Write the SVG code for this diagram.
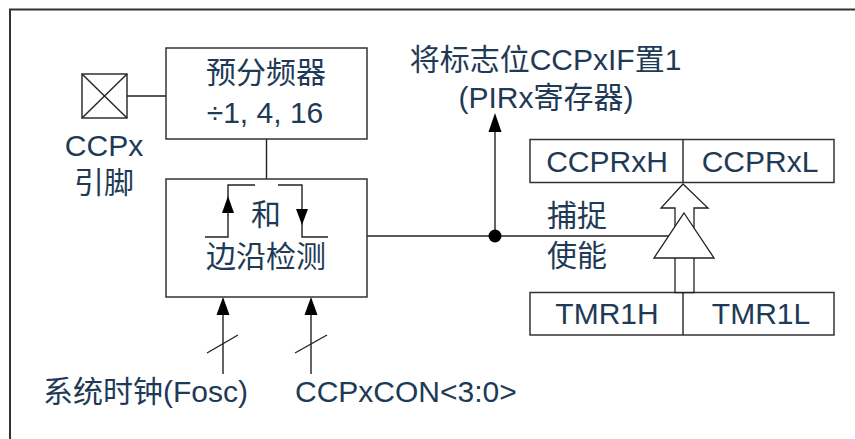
<svg xmlns="http://www.w3.org/2000/svg" width="855" height="439" viewBox="0 0 855 439">
<defs>
<style>
.t{font-family:"Liberation Sans","Noto Sans CJK SC",sans-serif;font-size:30px;fill:#1e3a56}
.m{text-anchor:middle}
.box{fill:#fff;stroke:#333;stroke-width:1.5}
.ln{fill:none;stroke:#222;stroke-width:1.4}
.ah{fill:#000;stroke:none}
</style>
</defs>
<rect width="855" height="439" fill="#fff"/>
<path d="M10,439 V9.5 H855" fill="none" stroke="#333" stroke-width="2"/>

<g id="connectors">
  <line class="ln" x1="127" y1="96" x2="166" y2="96"/>
  <line class="ln" x1="266.5" y1="139" x2="266.5" y2="179"/>
  <line class="ln" x1="367" y1="236" x2="669" y2="236"/>
  <line class="ln" x1="495" y1="236" x2="495" y2="130"/>
  <polygon class="ah" points="495,113 488.5,132 501.5,132"/>
  <circle cx="495" cy="236" r="6.5" fill="#000"/>
  <line class="ln" x1="223" y1="374" x2="223" y2="313"/>
  <polygon class="ah" points="223,297 216.5,315 229.5,315"/>
  <line class="ln" x1="207" y1="353" x2="238" y2="335"/>
  <line class="ln" x1="311" y1="374" x2="311" y2="313"/>
  <polygon class="ah" points="311,297 304.5,315 317.5,315"/>
  <line class="ln" x1="295" y1="353" x2="327" y2="335"/>
</g>

<g id="pin">
  <rect x="82" y="74" width="45" height="44" fill="#fff" stroke="#222" stroke-width="1.4"/>
  <line class="ln" x1="82" y1="74" x2="127" y2="118" stroke-width="1"/>
  <line class="ln" x1="127" y1="74" x2="82" y2="118" stroke-width="1"/>
  <text class="t m" x="104" y="156">CCPx</text>
  <text class="t m" x="104" y="193">引脚</text>
</g>

<g id="prescaler">
  <rect class="box" x="166" y="48" width="201" height="91"/>
  <text class="t m" x="266" y="83">预分频器</text>
  <text class="t m" x="265" y="122.5">÷1, 4, 16</text>
</g>

<g id="edge-detect">
  <rect class="box" x="166" y="179" width="201" height="118"/>
  <polyline class="ln" points="205,237 228,237 228,185 255,185"/>
  <polygon class="ah" points="228,196 222,213 234,213"/>
  <polyline class="ln" points="278,185 302,185 302,237 328,237"/>
  <polygon class="ah" points="302,225 296,209 308,209"/>
  <text class="t m" x="266" y="225">和</text>
  <text class="t m" x="266" y="267">边沿检测</text>
</g>

<g id="flag-label">
  <text class="t m" x="545.5" y="70">将标志位CCPxIF置1</text>
  <text class="t m" x="546" y="108">(PIRx寄存器)</text>
</g>

<g id="ccpr">
  <rect class="box" x="530" y="139.5" width="304" height="43"/>
  <line class="ln" x1="683" y1="139.5" x2="683" y2="182.5"/>
  <text class="t m" x="607" y="171.5">CCPRxH</text>
  <text class="t m" x="760" y="171.5">CCPRxL</text>
</g>

<g id="tmr1">
  <rect class="box" x="530" y="292.5" width="304" height="42.5"/>
  <line class="ln" x1="683" y1="292.5" x2="683" y2="335"/>
  <text class="t m" x="607" y="324">TMR1H</text>
  <text class="t m" x="761" y="324">TMR1L</text>
</g>

<g id="capture-gate">
  <path d="M683,184 L708,208 L694,208 L694,292.5 L675,292.5 L675,208 L661,208 Z" fill="#fff" stroke="#222" stroke-width="1.3"/>
  <path d="M684,213 L714,258 L654,258 Z" fill="#fff" stroke="#222" stroke-width="1.3"/>
  <text class="t" x="547" y="226">捕捉</text>
  <text class="t" x="547" y="266">使能</text>
</g>

<g id="inputs">
  <text class="t" x="43" y="402">系统时钟(Fosc)</text>
  <text class="t" x="295" y="401.5">CCPxCON&lt;3:0&gt;</text>
</g>
</svg>
